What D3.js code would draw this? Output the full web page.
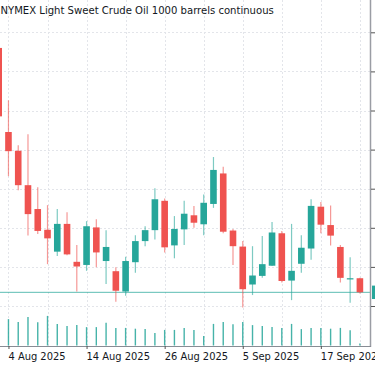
<!DOCTYPE html>
<html>
<head>
<meta charset="utf-8">
<script src="https://cdn.jsdelivr.net/npm/d3@7"></script>
<style>
  html, body { margin: 0; padding: 0; background: #ffffff; }
  svg { display: block; }
  text { font-family: "DejaVu Sans Condensed", "DejaVu Sans", sans-serif; font-stretch: condensed; fill: #131722; }
</style>
</head>
<body>
<svg id="chart" width="375" height="366"></svg>
<script>
// ---- data ----
const title = "NYMEX Light Sweet Crude Oil 1000 barrels continuous";
const dates = ["2025-08-01","2025-08-04","2025-08-05","2025-08-06","2025-08-07","2025-08-08",
  "2025-08-11","2025-08-12","2025-08-13","2025-08-14","2025-08-15",
  "2025-08-18","2025-08-19","2025-08-20","2025-08-21","2025-08-22",
  "2025-08-25","2025-08-26","2025-08-27","2025-08-28","2025-08-29",
  "2025-09-01","2025-09-02","2025-09-03","2025-09-04","2025-09-05",
  "2025-09-08","2025-09-09","2025-09-10","2025-09-11","2025-09-12",
  "2025-09-15","2025-09-16","2025-09-17","2025-09-18","2025-09-19",
  "2025-09-22","2025-09-23"];
const open  = [67.60,65.45,64.97,64.09,63.48,62.95,62.39,63.10,62.13,62.05,63.01,62.15,61.89,61.37,62.12,62.66,62.94,63.69,62.55,62.96,63.32,63.09,63.61,64.39,62.93,62.52,61.55,61.77,62.03,62.86,61.65,62.08,62.47,63.54,63.07,62.51,61.68,61.71];
const high  = [67.69,66.26,65.11,65.39,64.04,63.58,63.48,63.40,62.56,63.17,63.22,62.94,61.99,62.26,62.81,63.04,64.01,63.75,63.30,63.69,63.56,63.85,64.81,64.56,62.97,62.66,62.53,62.79,63.15,62.92,63.10,62.81,63.73,63.66,63.57,62.56,62.25,61.72];
const low   = [65.80,64.32,63.96,62.80,62.84,62.07,62.28,62.30,61.37,61.90,61.99,61.56,61.11,61.26,61.85,62.53,62.70,62.37,62.22,62.56,63.00,62.81,63.51,62.86,62.05,60.96,61.28,61.72,62.02,61.60,61.15,61.85,62.18,62.86,62.55,61.60,61.08,61.32];
const close = [65.85,64.96,64.09,63.35,62.92,62.73,63.10,62.32,62.01,63.04,62.37,62.51,61.39,62.15,62.66,62.94,63.73,62.50,62.97,63.36,63.13,63.64,64.48,62.90,62.53,61.43,61.78,62.07,62.88,61.64,61.90,62.49,63.56,63.08,62.80,61.72,61.71,61.35];
const volume = [62,66,59,71,58,74,54,49,51,46,46,57,44,44,42,41,31,39,39,44,39,24,54,59,53,59,51,49,46,44,54,41,44,44,42,44,38,5];
const priceTicks = [61,62,63,64,65,66,67,68];
const dateTicks = ["2025-08-04","2025-08-14","2025-08-26","2025-09-05","2025-09-17"];
const lastPrice = 61.35;

// ---- layout ----
const W = 375, H = 366;
const plotRight = 370, axisY = 346;
const svg = d3.select("#chart");
const parse = d3.timeParse("%Y-%m-%d");
const fmt = d3.timeFormat("%-d %b %Y");

const x = d3.scalePoint().domain(dates).range([-1.3, 359.9]);
const y = d3.scaleLinear().domain([61, 68]).range([306, 32.3]);
const v = d3.scaleLinear().domain([0, 100]).range([345.5, 305.5]);

const up = "#26a69a", down = "#ef5350";

// grid
const g = svg.append("g");
g.selectAll("line.h").data(priceTicks).join("line")
  .attr("x1", 0).attr("x2", plotRight)
  .attr("y1", d => Math.round(y(d)) + 0.5).attr("y2", d => Math.round(y(d)) + 0.5)
  .attr("stroke", "#e3e5ea").attr("stroke-dasharray", "2,2");
const vGrid = dates.filter((d, i) => i % 4 === 1);
g.selectAll("line.v").data(vGrid).join("line")
  .attr("x1", d => Math.round(x(d)) + 0.5).attr("x2", d => Math.round(x(d)) + 0.5)
  .attr("y1", 0).attr("y2", axisY)
  .attr("stroke", "#e3e5ea").attr("stroke-dasharray", "2,2");

// volume
svg.append("g").selectAll("line").data(dates).join("line")
  .attr("x1", d => x(d)).attr("x2", d => x(d))
  .attr("y1", (d, i) => v(volume[i])).attr("y2", v(0))
  .attr("stroke", up).attr("stroke-width", 1.4).attr("stroke-opacity", 0.85);

// last price line
svg.append("line")
  .attr("x1", 0).attr("x2", plotRight)
  .attr("y1", y(lastPrice)).attr("y2", y(lastPrice))
  .attr("stroke", up).attr("stroke-opacity", 0.75).attr("stroke-width", 1);

// candles
const c = svg.append("g").selectAll("g").data(dates).join("g");
c.append("line")
  .attr("x1", d => x(d)).attr("x2", d => x(d))
  .attr("y1", (d, i) => y(high[i])).attr("y2", (d, i) => y(low[i]))
  .attr("stroke", (d, i) => close[i] >= open[i] ? up : down)
  .attr("stroke-opacity", 0.6).attr("stroke-width", 1.2);
c.append("rect")
  .attr("x", d => x(d) - 3.3).attr("width", 6.6)
  .attr("y", (d, i) => y(Math.max(open[i], close[i])))
  .attr("height", (d, i) => Math.max(1.2, Math.abs(y(open[i]) - y(close[i]))))
  .attr("fill", (d, i) => close[i] >= open[i] ? up : down);

// right border + price ticks
svg.append("line").attr("x1", plotRight + 0.5).attr("x2", plotRight + 0.5)
  .attr("y1", 0).attr("y2", axisY + 1).attr("stroke", "#9a9da4").attr("stroke-width", 1.5);
const yAxis = svg.append("g").attr("transform", `translate(${plotRight + 1},0)`)
  .call(d3.axisRight(y).tickValues(priceTicks).tickSize(5).tickFormat(""));
yAxis.select(".domain").remove();
yAxis.selectAll(".tick line").attr("stroke", "#555");

// last price label on axis
svg.append("rect")
  .attr("x", plotRight + 2).attr("y", y(lastPrice) - 6.7)
  .attr("width", 12).attr("height", 13.4).attr("fill", up);

// bottom axis
svg.append("line").attr("x1", 0).attr("x2", plotRight + 1)
  .attr("y1", axisY + 0.5).attr("y2", axisY + 0.5).attr("stroke", "#888c94").attr("stroke-width", 1);
const xAxis = svg.append("g").attr("transform", `translate(0,${axisY})`)
  .call(d3.axisBottom(x).tickValues(dateTicks).tickSize(3).tickPadding(3)
    .tickFormat(d => fmt(parse(d))));
xAxis.select(".domain").remove();
xAxis.selectAll(".tick line").attr("stroke", "#555");
xAxis.selectAll(".tick text")
  .attr("text-anchor", "start").attr("dx", "-0.5")
  .style("font-size", "11px").attr("fill", "#131722");

// title
svg.append("text").attr("x", 0.5).attr("y", 14)
  .style("font-size", "11.2px").text(title);
</script>
</body>
</html>
